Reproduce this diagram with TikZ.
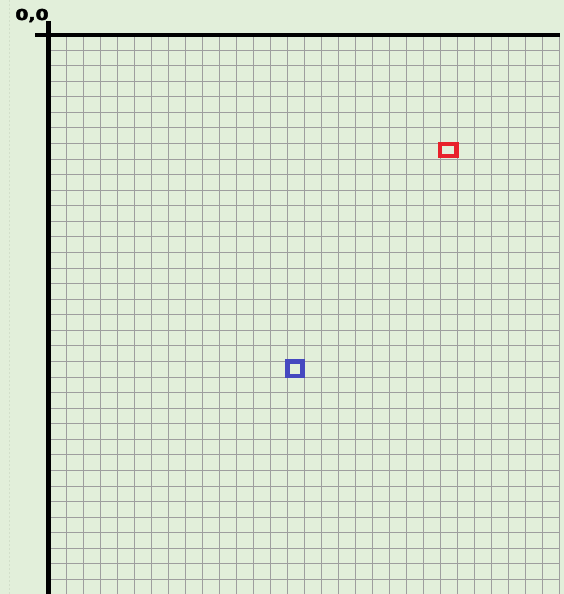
\documentclass[tikz,border=0pt]{standalone}
\usepackage{fontspec}
\newfontfamily\labelfont[FakeBold=2.5]{DejaVu Sans Bold}
\usetikzlibrary{positioning}
\definecolor{paper}{HTML}{E2EFDA}
\definecolor{gridgray}{HTML}{9E9E9E}
\definecolor{guide}{HTML}{D2DFCA}
\definecolor{cellred}{HTML}{E8212B}
\definecolor{cellblue}{HTML}{4548C0}

\begin{document}
\begin{tikzpicture}[x=1pt, y=-1pt,
    gridline/.style={gridgray, line width=0.9pt},
    axisline/.style={black, line width=4.3pt},
    marker/.style={rectangle, draw, line width=4.8pt, inner sep=0pt}]
    % Page
    \useasboundingbox (0,0) rectangle (564,594);
    \fill[paper] (0,0) rectangle (564,594);
    \draw[guide, line width=0.8pt, dash pattern=on 2pt off 2pt] (9,0) -- (9,594);

    % Grid
    \foreach \i in {1,...,30}
        \draw[gridline] (49+17*\i,35) -- (49+17*\i,594);
    \foreach \j in {1,...,35}
        \draw[gridline] (49,34.43+15.57*\j) -- (559,34.43+15.57*\j);

    % Axes
    \coordinate (xstart) at (35,35);
    \coordinate (xend) at (560,35);
    \coordinate (ystart) at (48.5,21);
    \coordinate (yend) at (48.5,594);
    \draw[axisline] (xstart) -- (xend);
    \draw[axisline] (ystart) -- (yend);

    % Origin label
    \node (origin) [xscale=1.25, inner sep=0pt] at (32,15.5) {\labelfont\fontsize{15}{16}\selectfont 0,0};

    % Cells
    \node (redcell) [marker, cellred, minimum width=16.5pt, minimum height=12pt] at (448.3,150) {};
    \node (bluecell) [marker, cellblue, minimum width=15pt, minimum height=14.6pt] at (295,368.7) {};
\end{tikzpicture}
\end{document}
